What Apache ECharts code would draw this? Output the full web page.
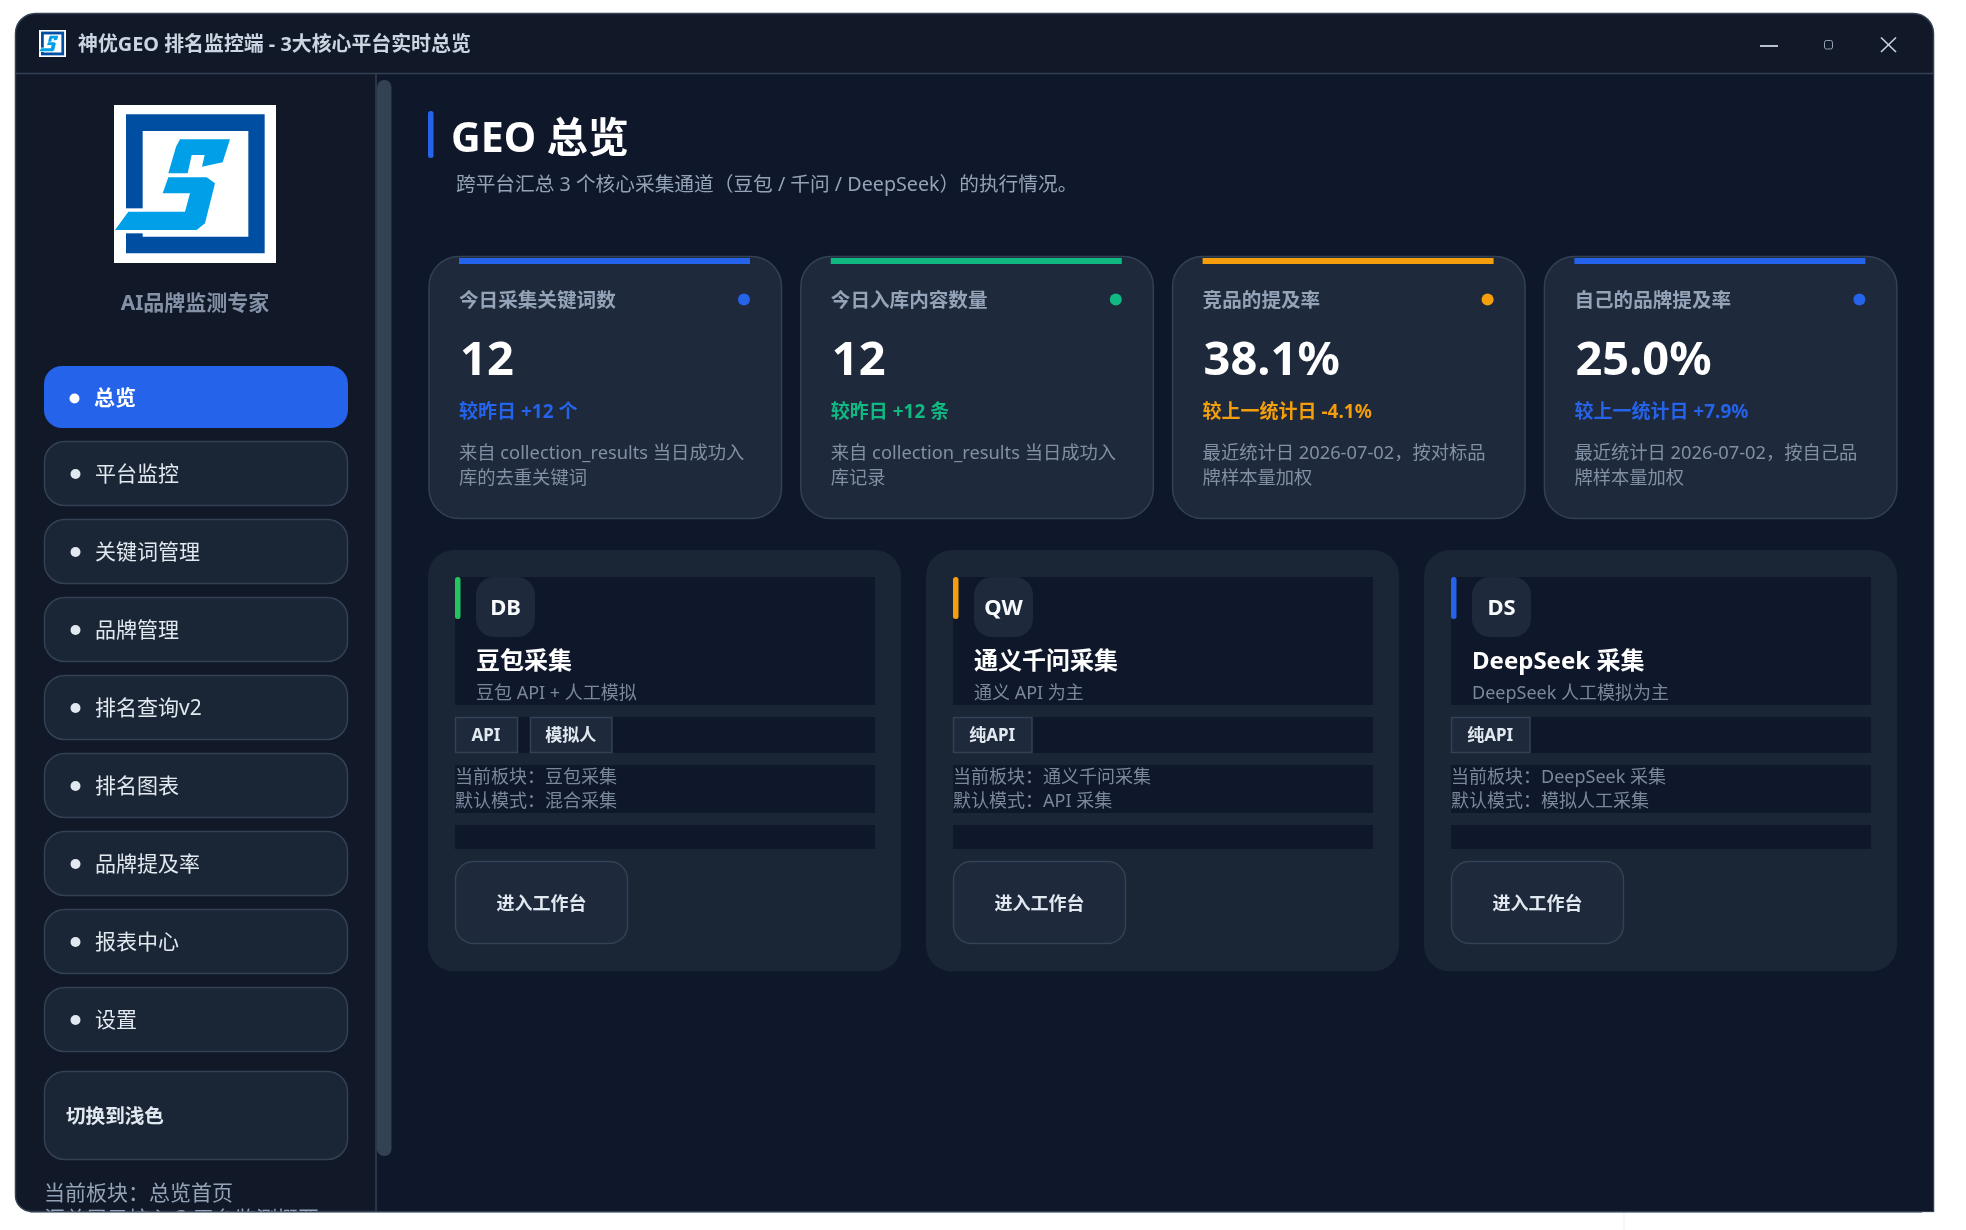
<!DOCTYPE html>
<html>
<head>
<meta charset="UTF-8">
<title>神优GEO 排名监控端</title>
<script src="https://cdn.jsdelivr.net/npm/echarts@6/dist/echarts.min.js"></script>
<style type="text/css">
html, body { margin: 0; padding: 0; background: #fff; }
#box { width: 1966px; height: 1230px; }
</style>
</head>
<body>
<div id="box"></div>
<script type="text/javascript">
// page text and numbers
var windowTitle = '神优GEO 排名监控端 - 3大核心平台实时总览';
var brandSlogan = 'AI品牌监测专家';
var navItems = ['总览', '平台监控', '关键词管理', '品牌管理', '排名查询v2', '排名图表', '品牌提及率', '报表中心', '设置'];
var themeButton = '切换到浅色';
var sideNotes = ['当前板块：总览首页', '汇总展示核心 3 平台监测概要'];
var pageTitle = 'GEO 总览';
var pageSubtitle = '跨平台汇总 3 个核心采集通道（豆包 / 千问 / DeepSeek）的执行情况。';

var kpiTitles = ['今日采集关键词数', '今日入库内容数量', '竞品的提及率', '自己的品牌提及率'];
var kpiValues = ['12', '12', '38.1%', '25.0%'];
var kpiDeltas = ['较昨日 +12 个', '较昨日 +12 条', '较上一统计日 -4.1%', '较上一统计日 +7.9%'];
var kpiNotes = [
	['来自 collection_results 当日成功入', '库的去重关键词'],
	['来自 collection_results 当日成功入', '库记录'],
	['最近统计日 2026-07-02，按对标品', '牌样本量加权'],
	['最近统计日 2026-07-02，按自己品', '牌样本量加权']
];

var platformCodes = ['DB', 'QW', 'DS'];
var platformNames = ['豆包采集', '通义千问采集', 'DeepSeek 采集'];
var platformSubs = ['豆包 API + 人工模拟', '通义 API 为主', 'DeepSeek 人工模拟为主'];
var platformTags = [['API', '模拟人'], ['纯API'], ['纯API']];
var platformBoards = ['当前板块：豆包采集', '当前板块：通义千问采集', '当前板块：DeepSeek 采集'];
var platformModes = ['默认模式：混合采集', '默认模式：API 采集', '默认模式：模拟人工采集'];
var platformButton = '进入工作台';

// colours
var BLUE = '#2563eb', GREEN = '#10b981', AMBER = '#f59e0b', LIME = '#22c55e';
var kpiAccents = [BLUE, GREEN, AMBER, BLUE];
var platformAccents = [LIME, AMBER, BLUE];
var BG_SIDE = '#111827', BG_MAIN = '#0f172a', CARD = '#1e293b', PANEL = '#1a2535', LINE = '#334155';
var FONT = '"Noto Sans", "Noto Sans CJK SC", sans-serif';
var TEXT_DY = 1.7; // canvas middle sits a bit above the browser baseline of the original

var els = [];

function rect(x, y, w, h, r, fill, stroke, lw) {
	var s = { fill: fill };
	if (stroke) { s.stroke = stroke; s.lineWidth = lw || 1.5; }
	els.push({ type: 'rect', silent: true, shape: { x: x, y: y, width: w, height: h, r: r }, style: s });
}
function dot(cx, cy, r, fill) {
	els.push({ type: 'circle', silent: true, shape: { cx: cx, cy: cy, r: r }, style: { fill: fill } });
}
function seg(x1, y1, x2, y2, color, lw) {
	els.push({ type: 'line', silent: true, shape: { x1: x1, y1: y1, x2: x2, y2: y2 }, style: { stroke: color, lineWidth: lw } });
}
function label(str, x, y, size, color, bold, align) {
	els.push({
		type: 'text', silent: true,
		style: {
			text: str, x: x, y: y + TEXT_DY, fill: color,
			font: (bold ? 'bold ' : '') + size + 'px ' + FONT,
			textAlign: align || 'left', textVerticalAlign: 'middle'
		}
	});
}

// logo is drawn in its own 0..162 box and scaled into place
function logo(x, y, w, h) {
	var k = 1 / 3;
	function p(list) { return list.map(function (q) { return [q[0] * k, q[1] * k]; }); }
	function box(x0, y0, x1, y1, fill) {
		return { type: 'rect', shape: { x: x0 * k, y: y0 * k, width: (x1 - x0) * k, height: (y1 - y0) * k }, style: { fill: fill } };
	}
	function poly(list, fill) {
		return { type: 'polygon', shape: { points: p(list) }, style: { fill: fill } };
	}
	var navy = '#004ea2', cyan = '#00a0e9';
	els.push({
		type: 'group', silent: true, x: x, y: y, scaleX: w / 162, scaleY: h / 158,
		children: [
			box(0, 0, 486, 474, '#fff'),
			box(36, 28, 452, 445, navy),
			box(86, 78, 403, 395, '#fff'),
			box(30, 310, 90, 385, '#fff'),
			poly([[198, 103], [348, 103], [326, 172], [264, 185], [272, 150], [233, 150], [221, 205], [163, 205], [186, 125]], cyan),
			poly([[163, 217], [278, 217], [303, 235], [273, 355], [248, 375], [3, 375], [43, 320], [213, 320], [228, 265], [146, 265]], cyan)
		]
	});
}

// window frame
rect(15.5, 13.5, 1918, 1198, [20, 20, 0, 16], BG_SIDE, LINE, 1.5);
rect(377, 75, 1556, 1136, 0, BG_MAIN);

// title bar
logo(39, 30, 27, 27);
label(windowTitle, 78, 44, 19.9, '#cbd5e1', true);
seg(16, 73.5, 1933, 73.5, LINE, 1.5);
seg(1760, 46, 1778, 46, '#cbd5e1', 1.8);
rect(1824.5, 40.5, 8, 8.5, 2, 'transparent', '#94a3b8', 1);
seg(1881, 37.5, 1896, 52, '#cbd5e1', 1.6);
seg(1896, 37.5, 1881, 52, '#cbd5e1', 1.6);

// sidebar
seg(376, 74, 376, 1211, LINE, 1.5);
rect(377, 80, 14.5, 1076, 7, LINE);
logo(114, 105, 162, 158);
label(brandSlogan, 195, 302, 21, '#8491a6', true, 'center');

navItems.forEach(function (name, i) {
	if (i === 0) {
		rect(44, 366, 304, 62, 18, BLUE);
		dot(74.5, 398.5, 5, '#ffffff');
		label(name, 94, 397, 21, '#ffffff', true);
	} else {
		var top = 441 + (i - 1) * 78;
		rect(44.5, top + 0.5, 303, 64, 20, PANEL, LINE, 1.5);
		dot(75.5, top + 33, 5, '#e2e8f0');
		label(name, 95, top + 32, 21, '#e2e8f0');
	}
});
rect(44.5, 1071.5, 303, 88, 20, PANEL, LINE, 1.5);
label(themeButton, 66, 1116, 19.6, '#e2e8f0', true);
label(sideNotes[0], 44, 1192, 21, '#94a3b8');
label(sideNotes[1], 44, 1218, 21, '#94a3b8');

// page head
rect(428, 111, 5.5, 47, 2.5, BLUE);
label(pageTitle, 451, 138.5, 41, '#ffffff', true);
label(pageSubtitle, 456, 184, 19.7, '#94a3b8');

// kpi cards
kpiTitles.forEach(function (title, i) {
	var x = 429 + i * 371.8, c = kpiAccents[i];
	rect(x, 256.5, 352.5, 262, 30, CARD, LINE, 1.5);
	rect(x + 30, 258, 291, 6, 0, c);
	label(title, x + 30, 300, 19.6, '#94a3b8', true);
	dot(x + 315, 299.5, 6, c);
	label(kpiValues[i], x + 31, 360, 47, '#ffffff', true);
	label(kpiDeltas[i], x + 30, 411, 19, c, true);
	label(kpiNotes[i][0], x + 30, 452.5, 18.3, '#8290a5');
	label(kpiNotes[i][1], x + 30, 477, 18.3, '#8290a5');
});

// platform cards
platformCodes.forEach(function (code, i) {
	var x = 428 + i * 498, ix = x + 27, tx = ix;
	rect(x, 550, 473, 421.5, 26, PANEL);
	rect(ix, 577, 420, 128, 0, BG_MAIN);
	rect(ix, 717, 420, 36, 0, BG_MAIN);
	rect(ix, 765, 420, 48, 0, BG_MAIN);
	rect(ix, 825, 420, 24, 0, BG_MAIN);
	rect(ix, 577, 5.5, 42, 2.5, platformAccents[i]);
	rect(ix + 21, 577, 59, 60, 18, CARD);
	label(code, ix + 50.5, 607, 22, '#f8fafc', true, 'center');
	label(platformNames[i], ix + 21, 660, 24, '#ffffff', true);
	label(platformSubs[i], ix + 21, 692, 18, '#7b889b');
	platformTags[i].forEach(function (tag, j) {
		var w = tag === 'API' ? 62 : (tag === '纯API' ? 78.5 : 81.5);
		rect(tx + 0.5, 717.5, w, 35, 0, CARD, LINE, 1.5);
		label(tag, tx + w / 2, 734, 17, '#e2e8f0', true, 'center');
		tx += w + 13;
	});
	label(platformBoards[i], ix, 776, 18, '#7b889b');
	label(platformModes[i], ix, 800.5, 18, '#7b889b');
	rect(ix + 0.5, 861.5, 172, 82, 18, CARD, LINE, 1.5);
	label(platformButton, ix + 86.5, 903, 18, '#e2e8f0', true, 'center');
});

// window bottom cuts the second sidebar line
rect(0, 1212.5, 1966, 17.5, 0, '#ffffff');
seg(30, 1212, 1922, 1212, LINE, 1.2);
seg(1624, 1213, 1624, 1230, '#f3f3f3', 1.5);

var myChart = echarts.init(document.getElementById('box'));
myChart.setOption({
	animation: false,
	backgroundColor: '#ffffff',
	graphic: { elements: els }
});
</script>
</body>
</html>
